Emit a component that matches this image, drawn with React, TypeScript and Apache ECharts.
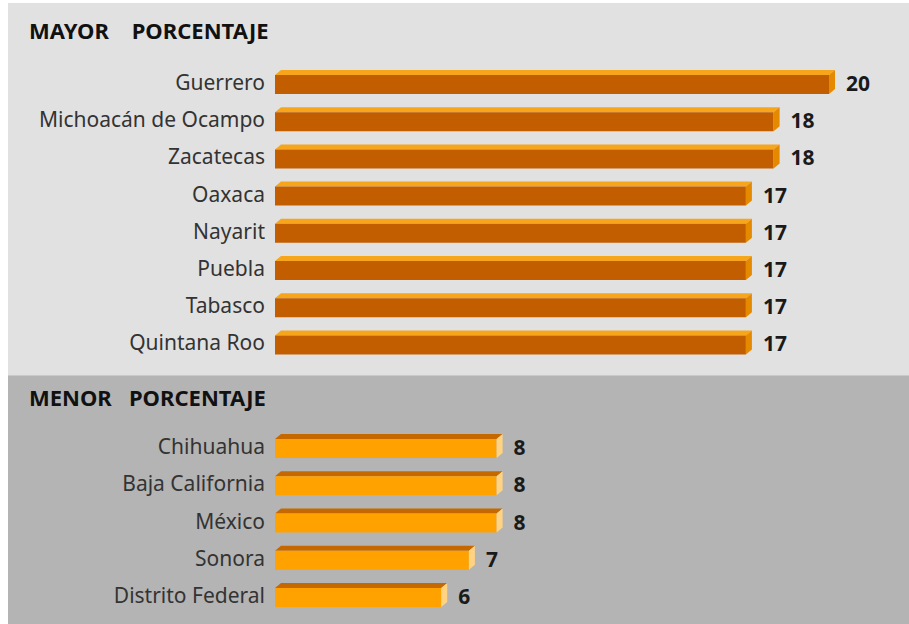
import React, { useEffect, useRef } from "react";
import * as echarts from "echarts";

const topTitle = "MAYOR    PORCENTAJE";
const bottomTitle = "MENOR   PORCENTAJE";
const topCategories = ["Guerrero", "Michoacán de Ocampo", "Zacatecas", "Oaxaca", "Nayarit", "Puebla", "Tabasco", "Quintana Roo"];
const topValues = [20, 18, 18, 17, 17, 17, 17, 17];
const bottomCategories = ["Chihuahua", "Baja California", "México", "Sonora", "Distrito Federal"];
const bottomValues = [8, 8, 8, 7, 6];

const FONT = "'Noto Sans', sans-serif";

function make3DRender(front: string, top: string, side: string) {
  return (params: any, api: any) => {
    const idx = api.value(0);
    const val = api.value(1);
    const p0 = api.coord([0, idx]);
    const p1 = api.coord([val, idx]);
    const x0 = p0[0];
    const x1 = p1[0];
    const yc = p0[1];
    const d = 6;
    const up = 5;
    const yTop = yc - 12;
    const yFront = yTop + up;
    const yBot = yc + 12;
    return {
      type: "group",
      children: [
        {
          type: "polygon",
          shape: { points: [[x0, yFront], [x0 + d, yTop], [x1 + d, yTop], [x1, yFront]] },
          style: { fill: top },
        },
        {
          type: "rect",
          shape: { x: x0, y: yFront, width: x1 - x0, height: yBot - yFront },
          style: { fill: front },
        },
        {
          type: "polygon",
          shape: { points: [[x1, yFront], [x1 + d, yTop], [x1 + d, yBot - up], [x1, yBot]] },
          style: { fill: side },
        },
        {
          type: "text",
          x: x1 + d + 11,
          y: yc + 1,
          style: {
            text: String(val),
            fill: "#1a1a1a",
            font: `bold 21px ${FONT}`,
            verticalAlign: "middle",
            align: "left",
          },
        },
      ],
    };
  };
}

export default function App() {
  const ref = useRef<HTMLDivElement>(null);
  useEffect(() => {
    if (!ref.current) return;
    const chart = echarts.init(ref.current, undefined, { renderer: "svg" });
    const xAxisCommon = {
      type: "value",
      min: 0,
      max: 22,
      show: false,
    };
    const yAxisCommon = {
      type: "category",
      inverse: true,
      axisLine: { show: false },
      axisTick: { show: false },
      splitLine: { show: false },
      axisLabel: { color: "#333333", fontSize: 21, fontFamily: FONT, margin: 10 },
    };
    chart.setOption({
      animation: false,
      graphic: [
        { type: "rect", silent: true, z: -10, shape: { x: 8, y: 3, width: 901, height: 372 }, style: { fill: "#e1e1e1" } },
        { type: "rect", silent: true, z: -10, shape: { x: 8, y: 375, width: 901, height: 249 }, style: { fill: "#b4b4b4" } },
        { type: "rect", silent: true, z: -9, shape: { x: 8, y: 375, width: 901, height: 1 }, style: { fill: "#c9c9c9" } },
        {
          type: "text",
          x: 29,
          y: 30,
          style: { text: topTitle, fill: "#111111", font: `bold 22px ${FONT}`, verticalAlign: "middle" },
        },
        {
          type: "text",
          x: 29,
          y: 397,
          style: { text: bottomTitle, fill: "#111111", font: `bold 22px ${FONT}`, verticalAlign: "middle" },
        },
      ],
      grid: [
        { left: 275, top: 63.4, width: 609.4, height: 297.6 },
        { left: 275, top: 427.4, width: 609.4, height: 186.3 },
      ],
      xAxis: [
        { ...xAxisCommon, gridIndex: 0 },
        { ...xAxisCommon, gridIndex: 1 },
      ],
      yAxis: [
        { ...yAxisCommon, gridIndex: 0, data: topCategories },
        { ...yAxisCommon, gridIndex: 1, data: bottomCategories },
      ],
      series: [
        {
          type: "custom",
          xAxisIndex: 0,
          yAxisIndex: 0,
          encode: { x: 1, y: 0 },
          clip: false,
          data: topValues.map((v, i) => [i, v]),
          renderItem: make3DRender("#c25e00", "#f7a61c", "#e48900"),
        },
        {
          type: "custom",
          xAxisIndex: 1,
          yAxisIndex: 1,
          encode: { x: 1, y: 0 },
          clip: false,
          data: bottomValues.map((v, i) => [i, v]),
          renderItem: make3DRender("#ffa200", "#c66800", "#ffd382"),
        },
      ],
    });
    return () => chart.dispose();
  }, []);
  return (
    <div
      ref={ref}
      style={{ position: "fixed", left: 0, top: 0, width: 909, height: 624, background: "#ffffff" }}
    />
  );
}
